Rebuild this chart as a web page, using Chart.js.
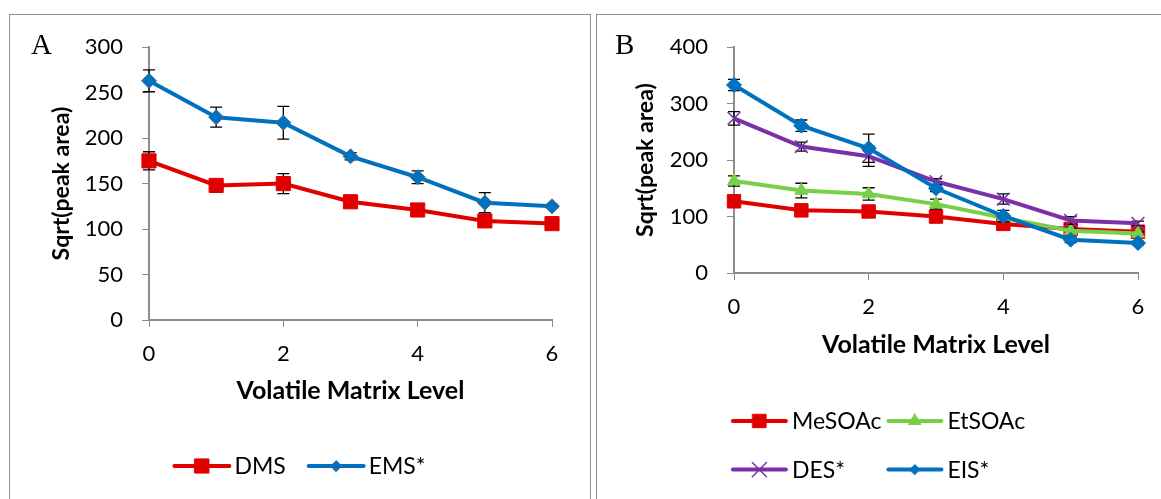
<!DOCTYPE html>
<html>
<head>
<meta charset="utf-8">
<script src="https://cdn.jsdelivr.net/npm/chart.js@4/dist/chart.umd.min.js"></script>
<style>
  html, body { margin: 0; padding: 0; background: #fff; width: 1161px; height: 499px; overflow: hidden; }
  .panel { position: absolute; top: 14px; height: 500px; border: 1px solid #8c8c8c; box-sizing: border-box; background: #fff; }
  #panelA { left: 9px; width: 582px; }
  #panelB { left: 596px; width: 600px; }
  canvas { display: block; }
</style>
</head>
<body>
<div class="panel" id="panelA"><canvas id="chartA" width="580" height="484"></canvas></div>
<div class="panel" id="panelB"><canvas id="chartB" width="564" height="484"></canvas></div>
<script>
// ---- data ----
const levels = [0, 1, 2, 3, 4, 5, 6];
const xTicks = [0, 2, 4, 6];

// Panel A: methyl / ethyl sulfides
const yTicksA = [0, 50, 100, 150, 200, 250, 300];
const dms    = [175, 148, 150, 130, 121, 109, 106];
const dmsErr = [10, 4, 11, 4, 4, 3, 3];
const ems    = [263, 223, 217, 180, 157, 129, 125];
const emsErr = [12, 11, 18, 4, 7, 11, 2];

// Panel B: thioesters and sulfides
const yTicksB = [0, 100, 200, 300, 400];
const mesoac    = [127, 111, 109, 100, 87, 78, 73];
const mesoacErr = [4, 4, 4, 4, 3, 3, 3];
const etsoac    = [163, 146, 140, 122, 98, 75, 70];
const etsoacErr = [9, 13, 11, 9, 6, 4, 3];
const des       = [274, 224, 207, 162, 131, 93, 88];
const desErr    = [12, 8, 18, 5, 9, 7, 4];
const eis       = [333, 261, 221, 150, 101, 59, 53];
const eisErr    = [10, 10, 25, 6, 10, 5, 3];

// ---- styling ----
const FONT = 'Lato, "Open Sans", "DejaVu Sans", sans-serif';
const AXIS = '#8c8c8c';
const RED = '#e00000', BLUE = '#0070c0', GREEN = '#78cf48', PURPLE = '#7a30a8';

function points(values) {
  return levels.map((x, i) => ({ x: x, y: values[i] }));
}

// vertical error bars, drawn just before each series so its line and markers sit on top
const errorBarPlugin = {
  id: 'errorBars',
  beforeDatasetDraw(chart, args) {
    const ds = chart.data.datasets[args.index];
    if (!ds.errorBars) return;
    const y = chart.scales.y;
    const ctx = chart.ctx;
    ctx.save();
    ctx.strokeStyle = '#000';
    ctx.lineWidth = 1.3;
    args.meta.data.forEach((pt, i) => {
      const v = ds.data[i].y, e = ds.errorBars[i];
      const t = y.getPixelForValue(v + e), b = y.getPixelForValue(v - e);
      ctx.beginPath();
      ctx.moveTo(pt.x, t); ctx.lineTo(pt.x, b);
      ctx.moveTo(pt.x - 6, t); ctx.lineTo(pt.x + 6, t);
      ctx.moveTo(pt.x - 6, b); ctx.lineTo(pt.x + 6, b);
      ctx.stroke();
    });
    ctx.restore();
  }
};

// series key: a short line with the series marker, followed by the name, laid out on a grid
const seriesKeyPlugin = {
  id: 'seriesKey',
  afterDraw(chart, args, o) {
    const ctx = chart.ctx;
    const list = chart.data.datasets;
    ctx.save();
    ctx.font = o.font;
    const cols = o.columns;
    const colW = [];
    list.forEach((ds, i) => {
      const c = i % cols;
      const w = o.lineLength + o.textGap + ctx.measureText(ds.label).width;
      colW[c] = Math.max(colW[c] || 0, w);
    });
    const total = colW.reduce((a, b) => a + b, 0) + o.itemGap * (cols - 1);
    const x0 = chart.width / 2 - total / 2;
    list.forEach((ds, i) => {
      const r = Math.floor(i / cols), c = i % cols;
      let x = x0;
      for (let k = 0; k < c; k++) x += colW[k] + o.itemGap;
      const y = o.top + r * o.rowGap;
      ctx.strokeStyle = ds.borderColor;
      ctx.lineWidth = ds.borderWidth;
      ctx.lineCap = 'round';
      ctx.beginPath();
      ctx.moveTo(x, y); ctx.lineTo(x + o.lineLength, y);
      ctx.stroke();
      ctx.fillStyle = ds.pointBackgroundColor;
      ctx.strokeStyle = ds.pointBorderColor;
      ctx.lineWidth = ds.pointBorderWidth;
      Chart.helpers.drawPoint(ctx, {
        pointStyle: ds.pointStyle, radius: ds.keyPointRadius, rotation: 0, borderWidth: ds.pointBorderWidth
      }, x + o.lineLength / 2, y);
      ctx.fillStyle = '#000';
      ctx.textBaseline = 'middle';
      ctx.textAlign = 'left';
      ctx.fillText(ds.label, x + o.lineLength + o.textGap, y + 1);
    });
    ctx.restore();
  }
};

// panel letter in the upper left corner
const panelTagPlugin = {
  id: 'panelTag',
  afterDraw(chart, args, o) {
    const ctx = chart.ctx;
    ctx.save();
    ctx.font = o.font;
    ctx.fillStyle = '#000';
    ctx.textBaseline = 'alphabetic';
    ctx.fillText(o.text, o.x, o.y);
    ctx.restore();
  }
};

function series(label, values, errs, color, style, radius, keyRadius, extra) {
  return Object.assign({
    label: label,
    data: points(values),
    errorBars: errs,
    borderColor: color,
    borderWidth: 4,
    pointStyle: style,
    pointRadius: radius,
    keyPointRadius: keyRadius,
    pointBackgroundColor: color,
    pointBorderColor: color,
    pointBorderWidth: 1,
    tension: 0,
    clip: false
  }, extra || {});
}

function xScale(height) {
  return {
    type: 'linear', min: 0, max: 6,
    afterBuildTicks: s => { s.ticks = xTicks.map(v => ({ value: v })); },
    afterFit: s => { s.height = height; },
    grid: { drawOnChartArea: false, drawTicks: true, tickLength: 7, color: AXIS, lineWidth: 1 },
    border: { display: true, color: AXIS, width: 2 },
    ticks: { padding: 14, color: '#000', font: { family: FONT, size: 22 } },
    title: { display: true, text: 'Volatile Matrix Level', color: '#000',
             font: { family: FONT, size: 25, weight: 'bold' }, padding: { top: 4, bottom: 4 } }
  };
}

function yScale(ticks, width) {
  return {
    type: 'linear', min: ticks[0], max: ticks[ticks.length - 1],
    afterBuildTicks: s => { s.ticks = ticks.map(v => ({ value: v })); },
    afterFit: s => { s.width = width; },
    grid: { drawOnChartArea: false, drawTicks: true, tickLength: 7, color: AXIS, lineWidth: 1 },
    border: { display: true, color: AXIS, width: 2 },
    ticks: { padding: 19, color: '#000', font: { family: FONT, size: 22 } },
    title: { display: true, text: 'Sqrt(peak area)', color: '#000',
             font: { family: FONT, size: 23, weight: 'bold' }, padding: { top: 4, bottom: 4 } }
  };
}

function commonOptions() {
  return {
    responsive: false,
    animation: false,
    devicePixelRatio: 1,
    events: []
  };
}

const KEY_FONT = '23px ' + FONT;
const TAG_FONT = '29px "Liberation Serif", "Times New Roman", serif';

function draw() {
  new Chart(document.getElementById('chartA'), {
    type: 'line',
    data: {
      datasets: [
        series('DMS', dms, dmsErr, RED, 'rect', 10, 10, { order: 1 }),
        series('EMS*', ems, emsErr, BLUE, 'rectRot', 7.5, 5.5, { order: 0, pointBorderColor: '#4a6a8a' })
      ]
    },
    options: Object.assign(commonOptions(), {
      layout: { padding: { left: 34, right: 38, top: 29, bottom: 89 } },
      scales: { x: xScale(90), y: yScale(yTicksA, 105) },
      plugins: {
        legend: { display: false }, tooltip: { enabled: false },
        seriesKey: { font: KEY_FONT, columns: 2, lineLength: 55, textGap: 5, itemGap: 23, top: 451, rowGap: 48 },
        panelTag: { text: 'A', font: TAG_FONT, x: 21, y: 39 }
      }
    }),
    plugins: [errorBarPlugin, seriesKeyPlugin, panelTagPlugin]
  });

  new Chart(document.getElementById('chartB'), {
    type: 'line',
    data: {
      datasets: [
        series('MeSOAc', mesoac, mesoacErr, RED, 'rect', 9.5, 9.5, { order: 3 }),
        series('EtSOAc', etsoac, etsoacErr, GREEN, 'triangle', 7.5, 7, { order: 2 }),
        series('DES*', des, desErr, PURPLE, 'crossRot', 9, 10, { order: 1, pointBorderWidth: 1.5 }),
        series('EIS*', eis, eisErr, BLUE, 'rectRot', 7.5, 5, { order: 0 })
      ]
    },
    options: Object.assign(commonOptions(), {
      layout: { padding: { left: 31, right: 23, top: 29, bottom: 135 } },
      scales: { x: xScale(91), y: yScale(yTicksB, 106) },
      plugins: {
        legend: { display: false }, tooltip: { enabled: false },
        seriesKey: { font: KEY_FONT, columns: 2, lineLength: 53, textGap: 6, itemGap: 7, top: 406, rowGap: 48.6 },
        panelTag: { text: 'B', font: TAG_FONT, x: 18, y: 39 }
      }
    }),
    plugins: [errorBarPlugin, seriesKeyPlugin, panelTagPlugin]
  });
}

const fontLoads = [
  '22px Lato', 'bold 22px Lato', '29px "Liberation Serif"'
].map(f => document.fonts.load(f).catch(() => null));
Promise.all(fontLoads).then(draw, draw);
</script>
</body>
</html>
